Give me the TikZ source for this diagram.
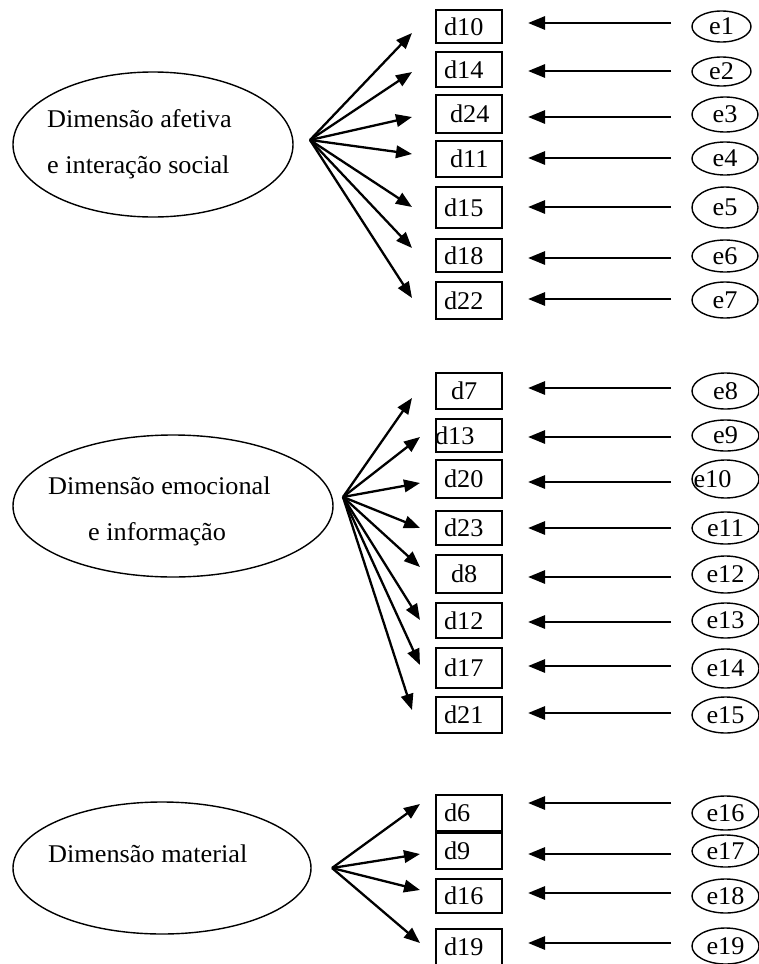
\documentclass[tikz,border=0pt]{standalone}
\usepackage{fontspec}
\setmainfont[FakeStretch=1.03]{Liberation Serif}
\usetikzlibrary{arrows.meta,shapes.geometric}
\newcommand\dfont{\fontsize{25.5}{30}\selectfont}
\begin{document}
\begin{tikzpicture}[x=1pt,y=-1pt,
  dbox/.style={draw, line width=1.5pt, rectangle, minimum width=66pt, text width=50pt,
    inner xsep=8pt, inner ysep=0pt, outer sep=0pt, align=left, font=\dfont},
  ebox/.style={draw, line width=1.4pt, ellipse, inner sep=0pt, outer sep=0pt, font=\dfont},
  big/.style={draw, line width=1.4pt, ellipse, inner sep=0pt, outer sep=0pt},
  btxt/.style={inner sep=0pt, anchor=base west, font=\dfont},
  harrow/.style={line width=2.8pt, -{Triangle[length=17pt,width=13pt]}, shorten <=21pt, shorten >=26pt},
  farrow/.style={line width=2.3pt, -{Triangle[length=16pt,width=12.5pt]}}]
\useasboundingbox (0,0) rectangle (759,964);

% latent ellipses
\node[big, minimum width=280pt, minimum height=145pt] (E1) at (153,144.5) {};
\node[big, minimum width=320pt, minimum height=142pt] (E2) at (173,506) {};
\node[big, minimum width=298pt, minimum height=132pt] (E3) at (162,868) {};
\node[btxt] (E1a) at (47,127) {Dimensão afetiva};
\node[btxt] (E1b) at (47,173) {e interação social};
\node[btxt] (E2a) at (48,494) {Dimensão emocional};
\node[btxt] (E2b) at (88,540.5) {e informação};
\node[btxt] (E3a) at (48,862) {Dimensão material};

% indicator boxes
\foreach \n/\y/\h/\p in {d10/26.5/33/0, d14/69.5/35/0, d24/114/38/6, d11/159/36/6,
  d15/207.5/41/0, d18/255.5/33/0, d22/300.5/37/0,
  d7/391/36/7, d13/435.5/33/-9, d20/479/38/0, d23/528/34/0, d8/574/38/7,
  d12/620.5/35/0, d17/668/40/0, d21/715/36/0,
  d6/813/36/0, d9/851/36/0, d16/896/34/0, d19/947/36/0}
  \node[dbox, minimum height=\h pt] (\n) at (469,\y) {\hspace*{\p pt}\n};

% error ellipses
\foreach \n/\x/\y/\w/\h in {e1/721.5/26.5/59/31, e2/721.5/71.5/59/29, e3/725/114.5/66/35,
  e4/725/158.5/66/33, e5/725/207.5/66/41, e6/725/256/66/32, e7/725/300/66/36,
  e8/725.5/391/67/36, e9/725.5/435.5/67/31, e11/725.5/528/67/32,
  e12/725.5/574.5/67/37, e13/725.5/620.5/67/35, e14/725.5/668.5/67/39, e15/725.5/715/67/36,
  e16/725.5/813/67/34, e17/725.5/851/67/32, e18/725.5/896/67/34, e19/725.5/946/67/36}
  \node[ebox, minimum width=\w pt, minimum height=\h pt] (\n) at (\x,\y) {\n};
\node[ebox, minimum width=67pt, minimum height=38pt] (e10) at (725.5,479) {\hspace*{-26pt}e10};

% error arrows
\foreach \e/\d/\s in {e1/d10/3.5, e2/d14/0.5, e3/d24/-2.5, e4/d11/0.5, e5/d15/0.5,
  e6/d18/-2, e7/d22/1, e8/d7/3, e9/d13/-1.5, e10/d20/-3, e11/d23/0, e12/d8/-2.5,
  e13/d12/-1.5, e14/d17/2.5, e15/d21/2, e16/d6/10, e17/d9/-3, e18/d16/3, e19/d19/3}
  { \path ([yshift=\s pt]\e.west) coordinate (s);
    \draw[harrow] (s) -- (s -| \d.east); }

% fan origins and tips
\coordinate (f1) at (310,140);
\coordinate (f2) at (343,497);
\coordinate (f3) at (332,868);
\foreach \i/\x/\y in {1/412/33, 2/412/72, 3/412/117, 4/412/154, 5/412/207, 6/412/248, 7/412/298}
  { \coordinate (a\i) at (\x,\y); \draw[farrow] (f1) -- (a\i); }
\foreach \i/\x/\y in {1/412/398, 2/420/437, 3/420/483, 4/420/528, 5/420/567, 6/420/620, 7/420/665, 8/412/710}
  { \coordinate (b\i) at (\x,\y); \draw[farrow] (f2) -- (b\i); }
\foreach \i/\x/\y in {1/420/804, 2/420/854, 3/420/890, 4/420/943}
  { \coordinate (c\i) at (\x,\y); \draw[farrow] (f3) -- (c\i); }
\end{tikzpicture}
\end{document}
